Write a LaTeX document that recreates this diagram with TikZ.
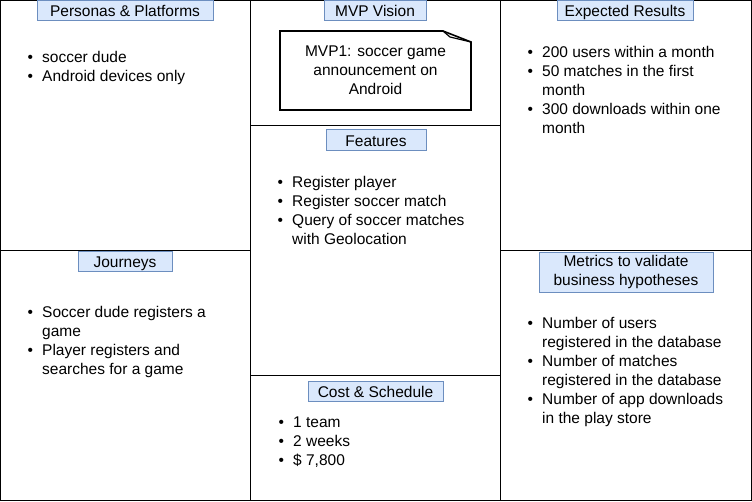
\documentclass[tikz,border=0pt]{standalone}
\usepackage{fontspec}
\setmainfont{Liberation Sans}
\definecolor{titlefill}{HTML}{DAE8FC}
\definecolor{titleline}{HTML}{6C8EBF}
\newcommand{\bul}{\makebox[14.5pt][l]{\textbullet}}
\newcommand{\nob}{\makebox[14.5pt][l]{}}
\tikzset{
  cellbox/.style={draw=black, line width=1pt},
  titlebox/.style={draw=titleline, fill=titlefill, line width=0.8pt, inner sep=0pt,
    font=\fontsize{15.5}{19}\selectfont, align=center, text height=12.2pt, text depth=0pt},
  listtext/.style={anchor=base west, inner sep=0pt, font=\fontsize{15.5}{19}\selectfont},
  calloutline/.style={draw=black, line width=1.6pt, line join=miter},
}
\begin{document}
\begin{tikzpicture}[x=1pt,y=-1pt]
\useasboundingbox (0,0) rectangle (752,501);
% cells
\draw[cellbox] (0.5,0.5) rectangle (250,250);
\draw[cellbox] (0.5,250) rectangle (250,500.5);
\draw[cellbox] (250,0.5) rectangle (500,125);
\draw[cellbox] (250,125) rectangle (500,375);
\draw[cellbox] (250,375) rectangle (500,500.5);
\draw[cellbox] (500,0.5) rectangle (751.5,250);
\draw[cellbox] (500,250) rectangle (751.5,500.5);
% titles
\node[titlebox, minimum width=176pt, minimum height=20.5pt] (tpers) at (125,10.5) {Personas \& Platforms};
\node[titlebox, minimum width=102pt, minimum height=20.5pt] (tmvp) at (375,10.5) {MVP Vision};
\node[titlebox, minimum width=136pt, minimum height=20.5pt] (texp) at (625,10.5) {Expected Results};
\node[titlebox, minimum width=100pt, minimum height=21pt] (tfeat) at (376,140) {Features};
\node[titlebox, minimum width=94pt, minimum height=20pt] (tjour) at (125,261) {Journeys};
\node[titlebox, minimum width=174pt, minimum height=40pt, text height=, text depth=] (tmet) at (626,272) {Metrics to validate\\business hypotheses};
\node[titlebox, minimum width=135pt, minimum height=20pt] (tcost) at (375.5,391) {Cost \& Schedule};
% callout
\draw[calloutline] (280,31) -- (443,31) -- (471,42) -- (471,110) -- (280,110) -- cycle;
\draw[calloutline, line width=1.2pt] (443,31) -- (450,37) -- (471,42);
\node[listtext, anchor=base] (mvptext) at (375.5,56) {\begin{tabular}[t]{@{}c@{}}MVP1: soccer game\\announcement on\\Android\end{tabular}};
% lists
\node[listtext] (lpers) at (27.5,62) {\begin{tabular}[t]{@{}l@{}}\bul soccer dude\\\bul Android devices only\end{tabular}};
\node[listtext] (lexp) at (527.5,57) {\begin{tabular}[t]{@{}l@{}}\bul 200 users within a month\\\bul 50 matches in the first\\\nob month\\\bul 300 downloads within one\\\nob month\end{tabular}};
\node[listtext] (lfeat) at (277.5,187) {\begin{tabular}[t]{@{}l@{}}\bul Register player\\\bul Register soccer match\\\bul Query of soccer matches\\\nob with Geolocation\end{tabular}};
\node[listtext] (ljour) at (27.5,317) {\begin{tabular}[t]{@{}l@{}}\bul Soccer dude registers a\\\nob game\\\bul Player registers and\\\nob searches for a game\end{tabular}};
\node[listtext] (lmet) at (527.5,328) {\begin{tabular}[t]{@{}l@{}}\bul Number of users\\\nob registered in the database\\\bul Number of matches\\\nob registered in the database\\\bul Number of app downloads\\\nob in the play store\end{tabular}};
\node[listtext] (lcost) at (278.5,427) {\begin{tabular}[t]{@{}l@{}}\bul 1 team\\\bul 2 weeks\\\bul \$ 7,800\end{tabular}};
\end{tikzpicture}
\end{document}
